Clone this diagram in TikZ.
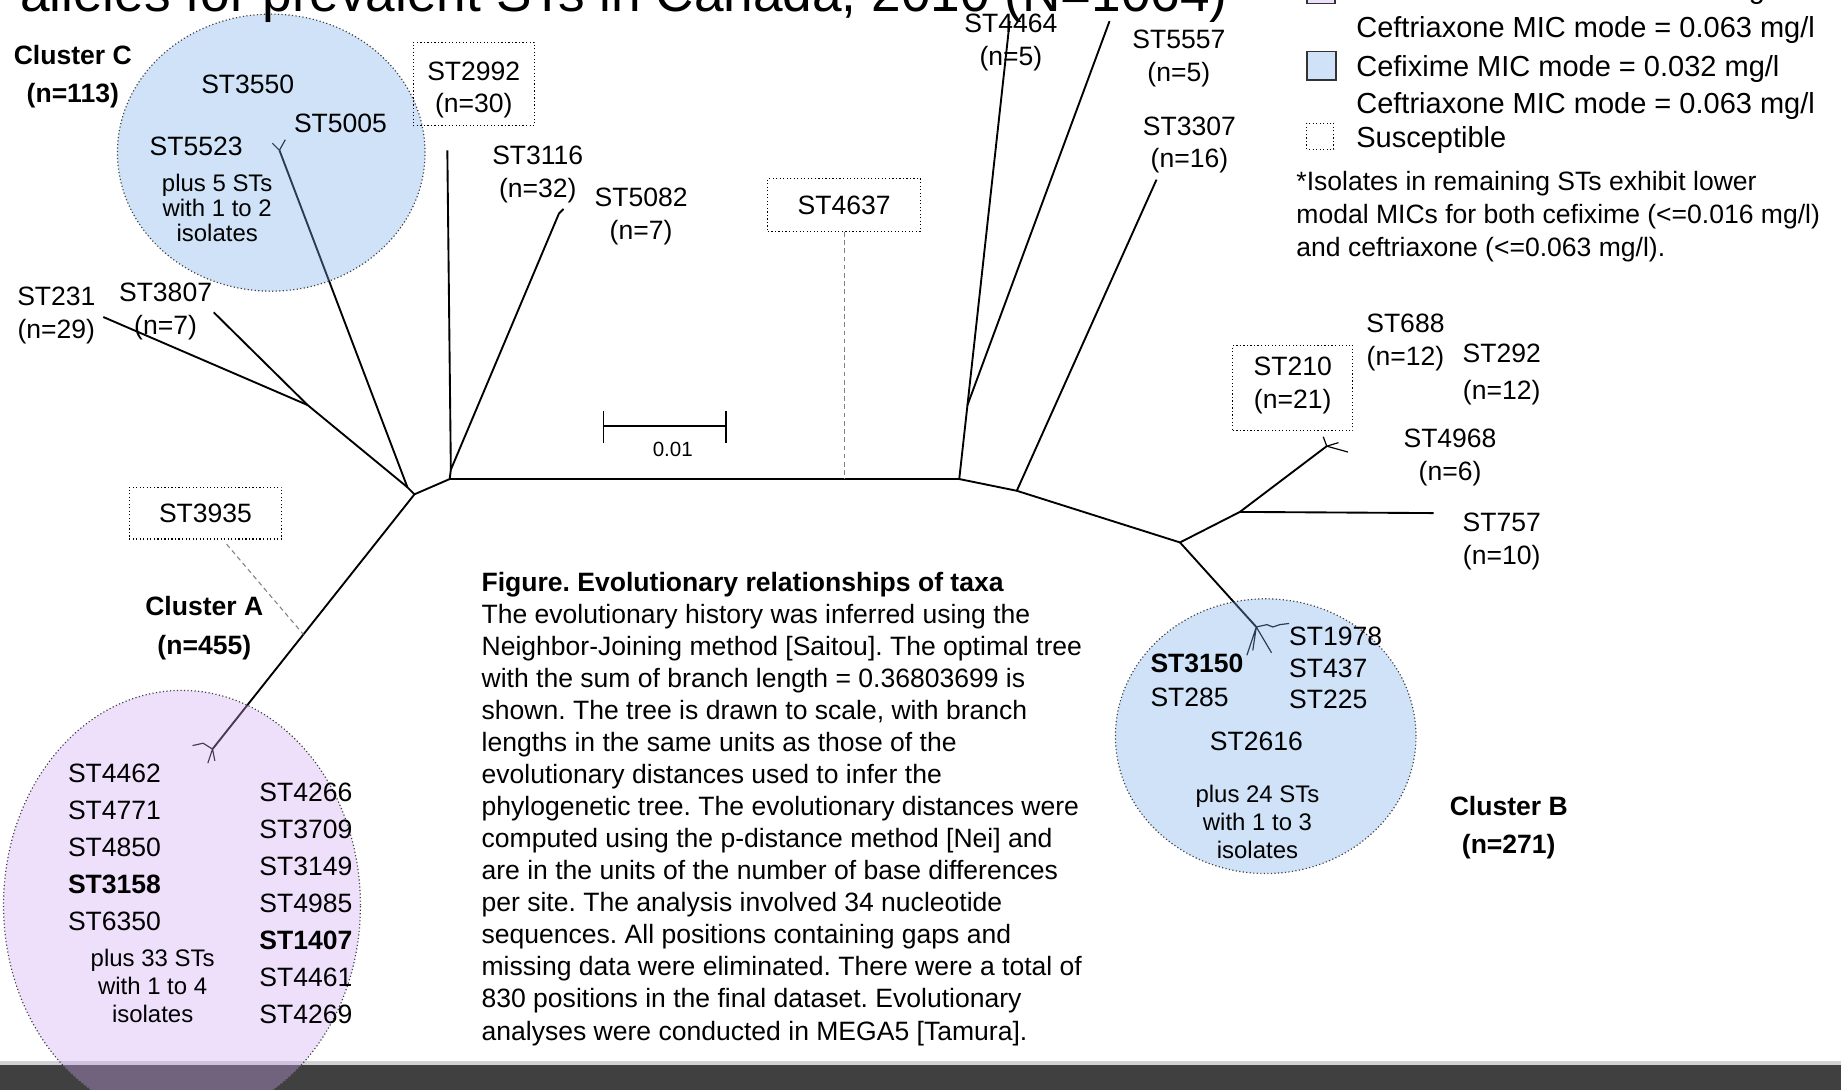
\documentclass[tikz,border=0pt]{standalone}
\usepackage{fontspec}
\setmainfont{Liberation Sans}
\usepackage{xcolor}
\usetikzlibrary{positioning,calc}
\frenchspacing
\definecolor{clusterblue}{RGB}{118,172,232}
\definecolor{clusterpurple}{RGB}{206,166,240}
\definecolor{bargray}{RGB}{64,64,64}
\tikzset{
    stlabel/.style={font=\fontsize{22.6}{28}\selectfont, align=center, inner sep=0pt},
    stpair/.style={stlabel, yshift=-2.5pt},
    clustername/.style={align=center, inner sep=0pt, font=\bfseries\fontsize{22.6}{32.5}\selectfont},
    smalltext/.style={align=center, inner sep=0pt, font=\fontsize{20.4}{22}\selectfont},
    stlist/.style={align=left, inner sep=0pt, font=\fontsize{22.6}{31.5}\selectfont},
    legendtext/.style={anchor=base west, inner sep=0pt, font=\fontsize{24.7}{30}\selectfont},
    susbox/.style={stlabel, draw, dotted, line width=1pt},
    branch/.style={draw, line width=1.6pt, line join=round},
    twig/.style={draw, line width=1pt},
    leader/.style={draw=gray, dash pattern=on 4pt off 3pt, line width=0.9pt},
    blob/.style={draw=black!75, dotted, line width=1pt, fill opacity=0.35}
}

\begin{document}
\begin{tikzpicture}[x=1pt, y=-1pt]
    \useasboundingbox (0,0) rectangle (1568,928);

    % footer bar
    \fill[gray!35] (0,904) rectangle (1568,907);
    \fill[bargray] (0,907) rectangle (1568,928);

    % tree points
    \coordinate (c0) at (383,408);
    \coordinate (c1) at (817,408);
    \coordinate (nL) at (353,421);
    \coordinate (nM) at (347,415);
    \coordinate (nW) at (262,345);
    \coordinate (nV) at (384,400);
    \coordinate (nJ) at (824,345);
    \coordinate (nK) at (866,418);
    \coordinate (nR) at (1005,462);
    \coordinate (nQ) at (1056,436);
    \coordinate (tA) at (181,638);
    \coordinate (tB) at (1070,534);
    \coordinate (tC) at (238,128);
    \coordinate (t231) at (88,270);
    \coordinate (t3807) at (182,266);
    \coordinate (t2992) at (381,128);
    \coordinate (t3116) at (476,182);
    \coordinate (t4464) at (860,18);
    \coordinate (t5557) at (945,18);
    \coordinate (t3307) at (985,153);
    \coordinate (t210) at (1130,380);
    \coordinate (t757) at (1221,437);

    % branches
    \path[branch] (c0) -- (c1);
    \path[branch] (c0) -- (nL) -- (tA);
    \path[branch] (nL) -- (nM) -- (tC);
    \path[branch] (nM) -- (nW) -- (t231);
    \path[branch] (nW) -- (t3807);
    \path[branch] (c0) -- (nV) -- (t2992);
    \path[branch] (nV) -- (t3116) -- ++(4,-4);
    \path[branch] (c1) -- (nJ) -- (t4464);
    \path[branch] (nJ) -- (t5557);
    \path[branch] (c1) -- (nK) -- (nR);
    \path[branch] (nK) -- (t3307);
    \path[branch] (nR) -- (nQ) -- (t210);
    \path[branch] (nQ) -- (t757);
    \path[branch] (nR) -- (tB);

    % small twigs at the tips
    \path[twig] (tC) -- +(-6,-6) (tC) -- +(5,-9);
    \path[twig] (tA) -- +(-8,-5) -- +(-17,-3) (tA) -- +(-4,12) (tA) -- +(2,10);
    \path[twig] (t210) -- +(-3,-8) (t210) -- +(18,5) (t210) -- +(10,-3);
    \path[twig] (tB) -- +(9,-2) -- +(14,0) -- +(20,-2) -- +(28,-3)
        (tB) -- +(-8,24) (tB) -- +(-3,20) (tB) -- +(13,22);

    % scale bar
    \coordinate (sb1) at (514,363);
    \coordinate (sb2) at (618,363);
    \path[branch] (sb1) -- (sb2);
    \path[branch] ($(sb1)+(0,-13)$) -- ($(sb1)+(0,14)$);
    \path[branch] ($(sb2)+(0,-13)$) -- ($(sb2)+(0,14)$);
    \node[stlabel, font=\fontsize{17.5}{20}\selectfont] (scale) at (573,383) {0.01};

    % clusters
    \filldraw[blob, fill=clusterblue] (231,130) ellipse [x radius=131pt, y radius=118pt];
    \filldraw[blob, fill=clusterblue] (1078,627) ellipse [x radius=128pt, y radius=117pt];
    \filldraw[blob, fill=clusterpurple] (155,771) ellipse [x radius=152pt, y radius=183pt];

    % title (cut by the page edge)
    \node[anchor=base west, inner sep=0pt, font=\fontsize{45.3}{54}\selectfont] (title) at (17,10) {alleles for prevalent STs in Canada, 2010 (N=1064)};

    % cluster C
    \node[clustername] (clusterC) at (62,65) {Cluster C\\(n=113)};
    \node[stlabel] (st3550) at (211,72) {ST3550};
    \node[stlabel] (st5005) at (290,105) {ST5005};
    \node[stlabel] (st5523) at (167,125) {ST5523};
    \node[smalltext, font=\fontsize{20.4}{21}\selectfont] (plusC) at (185,177) {plus 5 STs\\with 1 to 2\\isolates};

    % upper left and middle taxa
    \node[susbox, minimum width=103pt, minimum height=71pt] (st2992) at (403.5,71.5) {\rule{0pt}{26pt}ST2992\\(n=30)};
    \node[stpair] (st3116) at (458,146) {ST3116\\(n=32)};
    \node[stpair] (st5082) at (546,182) {ST5082\\(n=7)};
    \node[susbox, minimum width=130pt, minimum height=45pt] (st4637) at (719,174.5) {ST4637};
    \node[stpair] (st231) at (48,266) {ST231\\(n=29)};
    \node[stpair] (st3807) at (141,262.5) {ST3807\\(n=7)};
    \node[susbox, minimum width=130pt, minimum height=44pt] (st3935) at (175,437) {ST3935};

    % leaders to the branches
    \path[leader] (st4637.south) -- (st4637.south |- c0);
    \path[leader] ($(st3935.south)+(18,4)$) -- ($(nL)!0.55!(tA)$);

    % cluster A
    \node[clustername] (clusterA) at (174,535) {Cluster A\\(n=455)};
    \node[stlist] (listA1) at (97.5,722) {ST4462\\ST4771\\ST4850\\{\bfseries ST3158}\\ST6350};
    \node[stlist] (listA2) at (260.5,769.5) {ST4266\\ST3709\\ST3149\\ST4985\\{\bfseries ST1407}\\ST4461\\ST4269};
    \node[smalltext, font=\fontsize{20.4}{24}\selectfont] (plusA) at (130,840) {plus 33 STs\\with 1 to 4\\isolates};

    % right side taxa
    \node[stpair] (st4464) at (861,34) {ST4464\\(n=5)};
    \node[stpair] (st5557) at (1004,47) {ST5557\\(n=5)};
    \node[stpair] (st3307) at (1013,121) {ST3307\\(n=16)};
    \node[stpair] (st688) at (1197,289.5) {ST688\\(n=12)};
    \node[stpair, font=\fontsize{22.6}{32}\selectfont] (st292) at (1279,316.5) {ST292\\(n=12)};
    \node[susbox, minimum width=102pt, minimum height=73pt] (st210) at (1101,330.5) {ST210\\(n=21)\rule[-9pt]{0pt}{0pt}};
    \node[stpair] (st4968) at (1235,387) {ST4968\\(n=6)};
    \node[stpair] (st757) at (1279,459) {ST757\\(n=10)};

    % cluster B
    \node[clustername] (clusterB) at (1285,705) {Cluster B\\(n=271)};
    \node[stlist, font=\fontsize{22.6}{29}\selectfont] (listB1) at (1019.5,579.5) {{\bfseries ST3150}\\ST285};
    \node[stlist, font=\fontsize{22.6}{27}\selectfont] (listB2) at (1137.5,569) {ST1978\\ST437\\ST225};
    \node[stlabel] (st2616) at (1070,631) {ST2616};
    \node[smalltext, font=\fontsize{20.4}{23.5}\selectfont] (plusB) at (1071,700) {plus 24 STs\\with 1 to 3\\isolates};

    % legend
    \filldraw[fill=clusterpurple, fill opacity=0.35, draw=black!80, line width=1.2pt] (1113,-20) rectangle (1137,3);
    \filldraw[fill=clusterblue, fill opacity=0.35, draw=black!80, line width=1.2pt] (1113,44) rectangle (1138,68);
    \draw[dotted, line width=1pt] (1113,105) rectangle (1136,127);
    \node[legendtext] (leg1) at (1155,-1) {Cefixime MIC mode = 0.125 mg/l};
    \node[legendtext] (leg2) at (1155,32) {Ceftriaxone MIC mode = 0.063 mg/l};
    \node[legendtext] (leg3) at (1155,65) {Cefixime MIC mode = 0.032 mg/l};
    \node[legendtext] (leg4) at (1155,97) {Ceftriaxone MIC mode = 0.063 mg/l};
    \node[legendtext] (leg5) at (1155,126) {Susceptible};
    \node[anchor=north west, align=left, inner sep=0pt, font=\fontsize{22.6}{28}\selectfont] (note) at (1104,145.5)
        {*Isolates in remaining STs exhibit lower\\modal MICs for both cefixime (<=0.016 mg/l)\\and ceftriaxone (<=0.063 mg/l).};

    % caption
    \node[anchor=north west, align=left, inner sep=0pt, font=\fontsize{22.6}{27.3}\selectfont] (caption) at (410,487)
        {{\bfseries Figure. Evolutionary relationships of taxa}\\
        The evolutionary history was inferred using the\\
        Neighbor-Joining method [Saitou]. The optimal tree\\
        with the sum of branch length = 0.36803699 is\\
        shown. The tree is drawn to scale, with branch\\
        lengths in the same units as those of the\\
        evolutionary distances used to infer the\\
        phylogenetic tree. The evolutionary distances were\\
        computed using the p-distance method [Nei] and\\
        are in the units of the number of base differences\\
        per site. The analysis involved 34 nucleotide\\
        sequences. All positions containing gaps and\\
        missing data were eliminated. There were a total of\\
        830 positions in the final dataset. Evolutionary\\
        analyses were conducted in MEGA5 [Tamura].};
\end{tikzpicture}
\end{document}
